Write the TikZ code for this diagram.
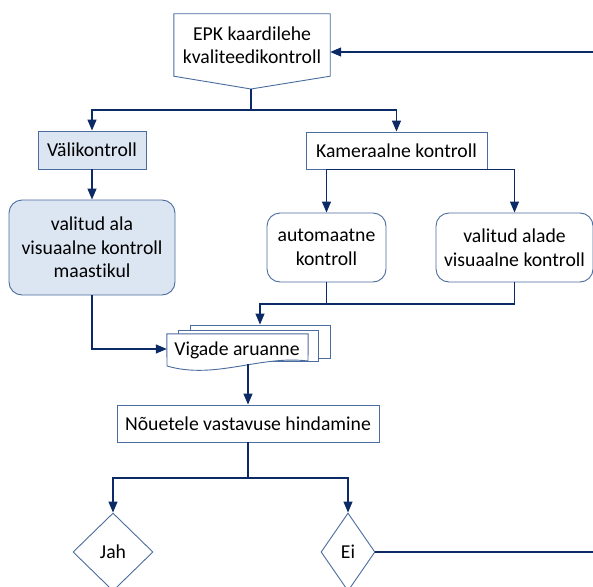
\documentclass[tikz,border=0pt]{standalone}
\usepackage{fontspec}
\setmainfont{Carlito}[Ligatures=NoCommon]
\usetikzlibrary{arrows.meta,shapes.geometric}
\definecolor{linecol}{HTML}{0C2A66}
\definecolor{bordercol}{HTML}{4A6C9E}
\definecolor{fillcol}{HTML}{DCE6F2}
\tikzset{
  every node/.style={font=\fontsize{19.7}{23.5}\selectfont, text=black, align=center, inner sep=0pt},
  plainbox/.style={draw=bordercol, line width=0.9pt, fill=white, rectangle},
  bluebox/.style={plainbox, fill=fillcol},
  roundbox/.style={plainbox, rounded corners=13pt},
  decbox/.style={draw=bordercol, line width=0.9pt, fill=white, diamond},
  conn/.style={draw=linecol, line width=1.2pt},
  arr/.style={conn, -{Triangle[length=11pt,width=9pt]}}
}
\begin{document}
\begin{tikzpicture}[x=1pt,y=-1pt]
\useasboundingbox (0,0) rectangle (593,586);
% top pentagon (off-page connector)
\node (epk) [minimum width=156pt, minimum height=62pt] at (252,45) {};
\coordinate (epkp) at (251,89);
\draw[draw=bordercol, line width=0.9pt, fill=white] (epk.north west) -- (epk.north east) -- (epk.south east) -- (epkp) -- (epk.south west) -- cycle;
\node (epktext) at (epk) {EPK kaardilehe\\kvaliteedikontroll};

\node (vali) [bluebox, minimum width=108pt, minimum height=38pt] at (92,150) {Välikontroll};
\node (kam) [plainbox, minimum width=181pt, minimum height=37pt] at (396.5,150.5) {Kameraalne kontroll};
\node (valala) [bluebox, rounded corners=13pt, minimum width=166pt, minimum height=95pt] at (92,247.5) {valitud ala\\visuaalne kontroll\\maastikul};
\node (auto) [roundbox, minimum width=119pt, minimum height=69pt] at (326.5,247.5) {automaatne\\kontroll};
\node (valad) [roundbox, minimum width=157pt, minimum height=69pt] at (514.5,247.5) {valitud alade\\visuaalne kontroll};

% stacked documents
\node (docb) [plainbox, minimum width=140pt, minimum height=33pt] at (260,341.5) {};
\node (docm) [plainbox, minimum width=140pt, minimum height=31pt] at (248,345.5) {};
\node (doc) [minimum width=141pt, minimum height=30pt] at (237.5,349) {};
\draw[draw=bordercol, line width=0.9pt, fill=white] (doc.north west) -- (doc.north east) -- (308,361)
  .. controls (260,355) and (215,380) .. (167,366) -- cycle;
\node (doctext) at (237,350) {Vigade aruanne};

\node (nou) [plainbox, minimum width=262pt, minimum height=37pt] at (248,423.5) {Nõuetele vastavuse hindamine};
\node (jah) [decbox, minimum width=80pt, minimum height=78pt] at (113,552) {Jah};
\node (ei) [decbox, minimum width=54pt, minimum height=78pt] at (348,552) {Ei};

% connectors
\coordinate (ret) at (593,52);
\coordinate (rete) at (593,552);
\coordinate (s1) at (251,110);
\coordinate (s2) at (0,304);
\coordinate (s3) at (0,478);
\draw[arr] (ret) -- (ret -| epk.east);
\draw[conn] (epkp) -- (s1);
\draw[arr] (s1) -| (vali.north);
\draw[arr] (s1) -| (kam.north);
\draw[arr] (kam.south) -| (auto.north);
\draw[arr] (kam.south) -| (valad.north);
\draw[arr] (vali.south) -- (valala.north);
\draw[conn] (auto.south) -- (auto.south |- s2);
\draw[arr] (valad.south) -- (valad.south |- s2) -| (docb.north);
\draw[arr] (valala.south) |- (doc.west);
\draw[arr] (doc.south -| nou.north) -- (nou.north);
\draw[conn] (nou.south) -- (nou.south |- s3);
\draw[arr] (nou.south |- s3) -| (jah.north);
\draw[arr] (nou.south |- s3) -| (ei.north);
\draw[conn] (ei.east) -- (rete);
\end{tikzpicture}
\end{document}
